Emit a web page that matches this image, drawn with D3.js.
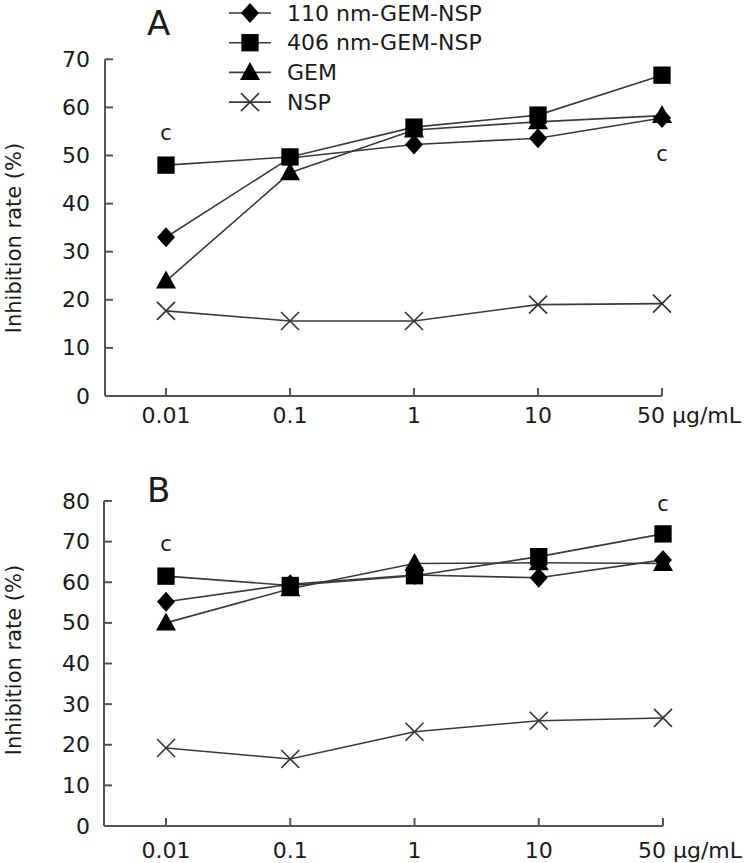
<!DOCTYPE html>
<html>
<head>
<meta charset="utf-8">
<script src="https://cdn.jsdelivr.net/npm/d3@7"></script>
<style>
  html, body { margin: 0; padding: 0; background: #fff; }
  svg { display: block; }
  text { font-family: "DejaVu Sans", sans-serif; fill: #1a1a1a; }
</style>
</head>
<body>
<svg id="chart" width="750" height="863"></svg>
<script>
// ---- data ----
const categories = ["0.01", "0.1", "1", "10", "50"];
const tickLabels = ["0.01", "0.1", "1", "10", "50 μg/mL"];
const seriesNames = ["110 nm-GEM-NSP", "406 nm-GEM-NSP", "GEM", "NSP"];
const seriesSymbols = ["diamond", "square", "triangle", "cross"];

// Panel A
const a110 = [33.0, 49.5, 52.3, 53.6, 57.8];
const a406 = [48.0, 49.7, 55.9, 58.4, 66.7];
const aGEM = [23.9, 46.4, 55.3, 57.0, 58.3];
const aNSP = [17.7, 15.6, 15.6, 19.0, 19.2];
const aTicks = [0, 10, 20, 30, 40, 50, 60, 70];

// Panel B
const b110 = [55.2, 59.5, 61.8, 61.1, 65.5];
const b406 = [61.5, 59.2, 61.6, 66.3, 71.9];
const bGEM = [50.0, 58.4, 64.6, 64.8, 64.6];
const bNSP = [19.2, 16.5, 23.2, 25.9, 26.6];
const bTicks = [0, 10, 20, 30, 40, 50, 60, 70, 80];

// significance marks "c"
const aSig = [{cat: "0.01", val: 54.6}, {cat: "50", val: 50.4}];
const bSig = [{cat: "0.01", val: 69.4}, {cat: "50", val: 79.3}];

const svg = d3.select("#chart");
const LINE = "#3a3a3a";
const AXIS = "#555";

function markerPath(type) {
  if (type === "square") return d3.symbol(d3.symbolSquare, 300)();
  if (type === "diamond") return "M0,-10L9,0L0,10L-9,0Z";
  if (type === "triangle") return "M0,-10.5L10,7.5L-10,7.5Z";
  return "M-9,-9L9,9M-9,9L9,-9";
}

function drawMarker(g, type, x, y) {
  const p = g.append("path")
    .attr("d", markerPath(type))
    .attr("transform", `translate(${x},${y})`);
  if (type === "cross") {
    p.attr("fill", "none").attr("stroke", "#333").attr("stroke-width", 1.6);
  } else {
    p.attr("fill", "#000");
  }
}

function panel(cfg) {
  const g = svg.append("g");
  const x = d3.scalePoint().domain(categories).range(cfg.xRange);
  const y = d3.scaleLinear().domain([0, d3.max(cfg.yTicks)]).range(cfg.yRange);

  // axes lines
  g.append("line").attr("x1", cfg.axisX).attr("x2", cfg.axisX)
    .attr("y1", y(0)).attr("y2", y(d3.max(cfg.yTicks)))
    .attr("stroke", AXIS).attr("stroke-width", 2);
  g.append("line").attr("x1", cfg.axisX).attr("x2", x("50"))
    .attr("y1", y(0)).attr("y2", y(0))
    .attr("stroke", AXIS).attr("stroke-width", 2);

  // y ticks
  cfg.yTicks.forEach(t => {
    g.append("line").attr("x1", cfg.axisX).attr("x2", cfg.axisX + 8)
      .attr("y1", y(t)).attr("y2", y(t)).attr("stroke", AXIS).attr("stroke-width", 2);
    g.append("text").attr("x", 90).attr("y", y(t))
      .attr("text-anchor", "end").attr("dominant-baseline", "central")
      .attr("font-size", 22).text(t);
  });

  // x ticks
  categories.forEach((c, i) => {
    g.append("line").attr("x1", x(c)).attr("x2", x(c))
      .attr("y1", y(0)).attr("y2", y(0) - 8).attr("stroke", AXIS).attr("stroke-width", 2);
    const last = i === categories.length - 1;
    g.append("text")
      .attr("x", last ? x(c) - 25 : x(c))
      .attr("y", y(0) + cfg.xLabelDy)
      .attr("text-anchor", last ? "start" : "middle")
      .attr("font-size", 22).text(tickLabels[i]);
  });

  // y title
  g.append("text")
    .attr("transform", `translate(21,${cfg.titleY}) rotate(-90)`)
    .attr("text-anchor", "middle").attr("font-size", 21)
    .text("Inhibition rate (%)");

  // panel letter
  g.append("text").attr("x", 147).attr("y", cfg.letterY)
    .attr("font-family", "Liberation Sans, Arial, sans-serif")
    .attr("font-size", 34).text(cfg.letter);

  // lines + markers
  const line = d3.line().x((d, i) => x(categories[i])).y(d => y(d));
  const order = [3, 2, 0, 1]; // NSP, GEM, 110, 406
  order.forEach(si => {
    g.append("path").attr("d", line(cfg.series[si]))
      .attr("fill", "none").attr("stroke", LINE).attr("stroke-width", 1.6);
  });
  order.forEach(si => {
    cfg.series[si].forEach((v, i) => drawMarker(g, seriesSymbols[si], x(categories[i]), y(v)));
  });

  // significance "c"
  cfg.sig.forEach(s => {
    g.append("text").attr("x", x(s.cat)).attr("y", y(s.val))
      .attr("text-anchor", "middle").attr("dominant-baseline", "central")
      .attr("font-size", 21).text("c");
  });
}

panel({
  xRange: [166, 662], yRange: [396, 59.3], axisX: 105, yTicks: aTicks,
  series: [a110, a406, aGEM, aNSP], sig: aSig, xLabelDy: 27,
  titleY: 238, letter: "A", letterY: 35
});
panel({
  xRange: [166, 663], yRange: [826, 501], axisX: 104, yTicks: bTicks,
  series: [b110, b406, bGEM, bNSP], sig: bSig, xLabelDy: 32,
  titleY: 660, letter: "B", letterY: 502
});

// legend
const legend = svg.append("g");
seriesNames.forEach((name, i) => {
  const cy = 13 + i * 29.7;
  legend.append("line").attr("x1", 229).attr("x2", 271).attr("y1", cy).attr("y2", cy)
    .attr("stroke", LINE).attr("stroke-width", 1.6);
  drawMarker(legend, seriesSymbols[i], 250, cy);
  legend.append("text").attr("x", 287).attr("y", cy)
    .attr("dominant-baseline", "central").attr("font-size", 22).text(name);
});
</script>
</body>
</html>
